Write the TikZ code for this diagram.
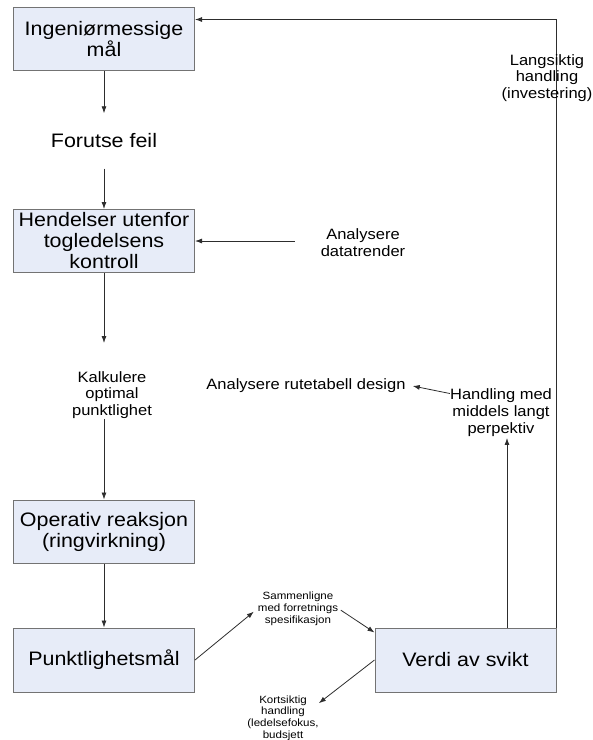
\documentclass[tikz,border=0pt]{standalone}
\usepackage{fontspec}
\setmainfont{Liberation Sans}[FakeStretch=1.1]
\usetikzlibrary{arrows.meta}
\definecolor{boxfill}{RGB}{231,236,248}
\definecolor{boxline}{RGB}{115,115,115}
\definecolor{wire}{RGB}{45,45,45}
\tikzset{
  box/.style={draw=boxline, fill=boxfill, line width=1pt, minimum width=181pt,
    minimum height=63pt, inner sep=0pt, align=center,
    font=\fontsize{19.5}{21}\selectfont},
  bigtext/.style={inner sep=0pt, align=center, font=\fontsize{19.5}{21}\selectfont},
  midtext/.style={inner sep=0pt, align=center, font=\fontsize{15}{16.8}\selectfont},
  smalltext/.style={inner sep=0pt, align=center, font=\fontsize{10.5}{11.8}\selectfont},
  arr/.style={draw=wire, line width=0.8pt, -{Latex[length=7pt,width=5pt]}},
}
\begin{document}
\begin{tikzpicture}[x=1pt,y=-1pt]
\useasboundingbox (0,0) rectangle (593,740);

% main chain of boxes on the left
\node[box] (goal) at (104,39) {Ingeniørmessige\\mål};
\node[bigtext, minimum height=55pt] (predict) at (104,141) {Forutse feil};
\node[box] (events) at (104,241) {Hendelser utenfor\\togledelsens\\kontroll};
\node[midtext] (calc) at (112,395) {Kalkulere\\optimal\\punktlighet};
\node[box] (react) at (104,531.5) {Operativ reaksjon\\(ringvirkning)};
\node[box, minimum height=64pt] (punct) at (104,660) {Punktlighetsmål};
\node[box, minimum height=64pt] (value) at (465.5,660) {Verdi av svikt};

% side labels
\node[midtext] (trend) at (363,243) {Analysere\\datatrender};
\node[midtext] (midterm) at (501,412.5) {Handling med\\middels langt\\perpektiv};
\node[midtext] (timetable) at (306,386) {Analysere rutetabell design};
\node[smalltext] (compare) at (298,608.5) {Sammenligne\\med forretnings\\spesifikasjon};
\node[smalltext] (shortterm) at (283,718) {Kortsiktig\\handling\\(ledelsefokus,\\budsjett};

% connectors
\draw[arr] (goal) -- (predict);
\draw[arr] (predict) -- (events);
\draw[arr, shorten <=26pt] (trend.west |- events.east) -- (events.east);
\draw[arr] (events) -- ([yshift=28pt]events.south |- calc.north);
\draw[arr] (events.south |- calc.south) -- (react);
\draw[arr] (react) -- (punct);
\draw[arr, shorten >=5pt] (punct.east) -- (compare.west);
\draw[arr, shorten <=3pt] (compare.east) -- ([yshift=-5pt]value.north west);
\draw[arr] (value.west) -- ([yshift=-8pt]shortterm.north east);
\draw[arr, shorten >=1.5pt] ([xshift=41.5pt]value.north) -- ([xshift=41.5pt]value.north |- midterm.south);
\draw[arr] ([yshift=-5pt]midterm.north west) -- ([xshift=7pt]timetable.east);
\draw[arr] (value.north east) |- ([yshift=-12.5pt]goal.north east);

% label set over the feedback line
\node[midtext] (longterm) at (547,78) {Langsiktig\\handling\\(investering)};
\end{tikzpicture}
\end{document}
